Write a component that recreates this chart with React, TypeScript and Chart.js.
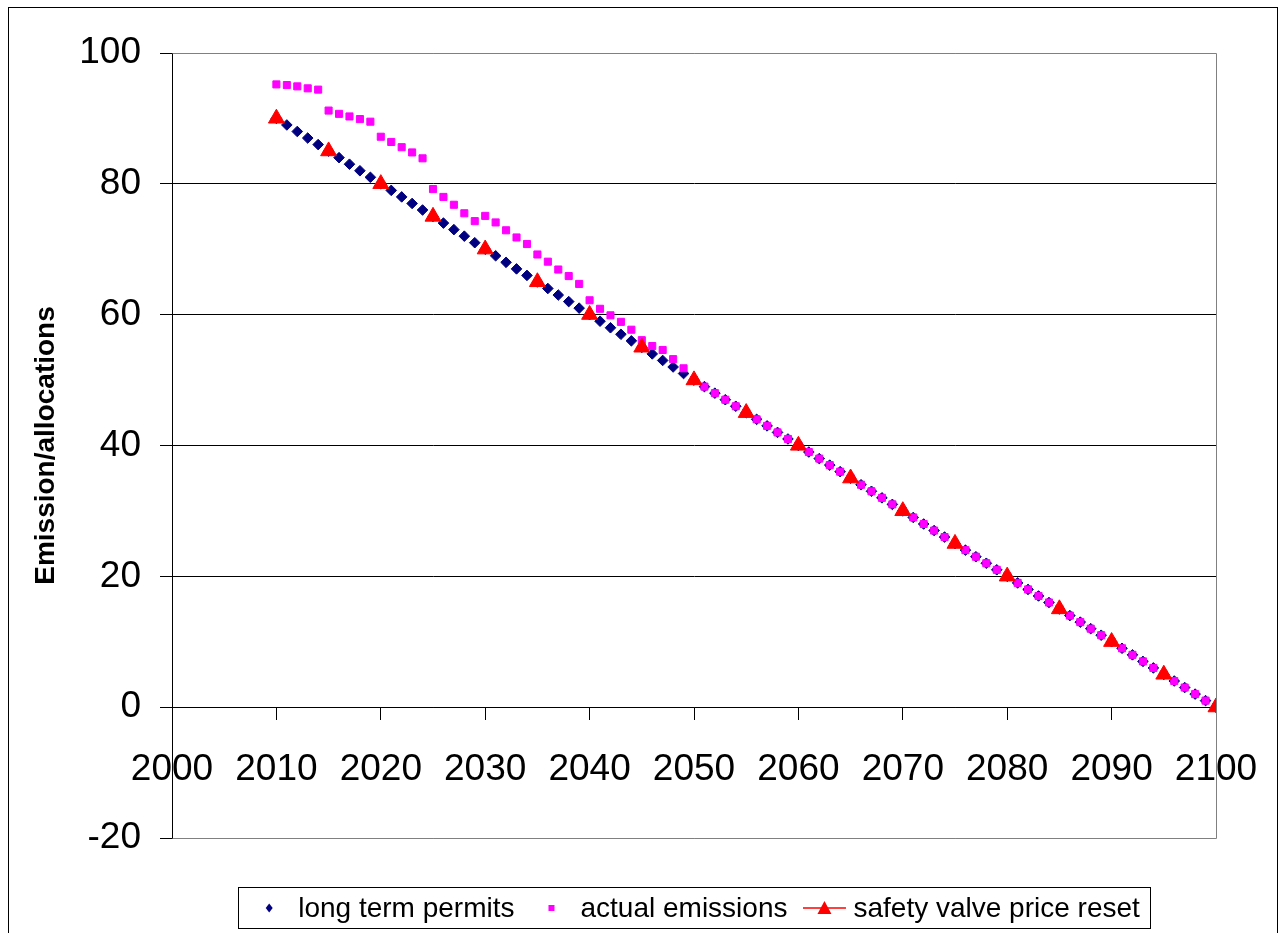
import React, { useEffect, useRef } from 'react';
import { Chart, registerables } from 'chart.js';

Chart.register(...registerables);

const FONT = '"Liberation Sans", Arial, sans-serif';

const years = [
  2010, 2011, 2012, 2013, 2014, 2015, 2016, 2017, 2018, 2019,
  2020, 2021, 2022, 2023, 2024, 2025, 2026, 2027, 2028, 2029,
  2030, 2031, 2032, 2033, 2034, 2035, 2036, 2037, 2038, 2039,
  2040, 2041, 2042, 2043, 2044, 2045, 2046, 2047, 2048, 2049,
  2050, 2051, 2052, 2053, 2054, 2055, 2056, 2057, 2058, 2059,
  2060, 2061, 2062, 2063, 2064, 2065, 2066, 2067, 2068, 2069,
  2070, 2071, 2072, 2073, 2074, 2075, 2076, 2077, 2078, 2079,
  2080, 2081, 2082, 2083, 2084, 2085, 2086, 2087, 2088, 2089,
  2090, 2091, 2092, 2093, 2094, 2095, 2096, 2097, 2098, 2099,
  2100,
];

const longTermPermits = [
  90, 89, 88, 87, 86, 85, 84, 83, 82, 81,
  80, 79, 78, 77, 76, 75, 74, 73, 72, 71,
  70, 69, 68, 67, 66, 65, 64, 63, 62, 61,
  60, 59, 58, 57, 56, 55, 54, 53, 52, 51,
  50, 49, 48, 47, 46, 45, 44, 43, 42, 41,
  40, 39, 38, 37, 36, 35, 34, 33, 32, 31,
  30, 29, 28, 27, 26, 25, 24, 23, 22, 21,
  20, 19, 18, 17, 16, 15, 14, 13, 12, 11,
  10, 9, 8, 7, 6, 5, 4, 3, 2, 1,
  0,
];

const actualEmissions = [
  95.2, 95.1, 94.9, 94.6, 94.4, 91.2, 90.7, 90.3, 89.9, 89.5,
  87.2, 86.4, 85.6, 84.8, 83.9, 79.2, 78.0, 76.8, 75.5, 74.3,
  75.1, 74.1, 72.9, 71.8, 70.8, 69.2, 68.1, 66.9, 65.9, 64.7,
  62.2, 60.9, 59.9, 58.9, 57.7, 56.1, 55.2, 54.6, 53.2, 51.8,
  50, 49, 48, 47, 46, 45, 44, 43, 42, 41,
  40, 39, 38, 37, 36, 35, 34, 33, 32, 31,
  30, 29, 28, 27, 26, 25, 24, 23, 22, 21,
  20, 19, 18, 17, 16, 15, 14, 13, 12, 11,
  10, 9, 8, 7, 6, 5, 4, 3, 2, 1,
  0,
];

const resetYears = [
  2010, 2015, 2020, 2025, 2030, 2035, 2040, 2045, 2050, 2055,
  2060, 2065, 2070, 2075, 2080, 2085, 2090, 2095, 2100,
];
const safetyValveReset = [
  90, 85, 80, 75, 70, 65, 60, 55, 50, 45,
  40, 35, 30, 25, 20, 15, 10, 5, 0,
];

const seriesLabels = ['long term permits', 'actual emissions', 'safety valve price reset'];
const yAxisTitle = 'Emission/allocations';

const NAVY = '#000080';
const MAGENTA = '#FF00FF';
const RED = '#FF0000';

const plotBorderPlugin = {
  id: 'plotBorder',
  beforeDatasetsDraw(chart: any) {
    const { ctx, chartArea: a } = chart;
    ctx.save();
    ctx.strokeStyle = '#808080';
    ctx.lineWidth = 1;
    ctx.beginPath();
    const l = Math.round(a.left) + 0.5;
    const r = Math.round(a.right) + 0.5;
    const t = Math.round(a.top) + 0.5;
    const b = Math.round(a.bottom) + 0.5;
    ctx.moveTo(l, t);
    ctx.lineTo(r, t);
    ctx.lineTo(r, b);
    ctx.lineTo(l, b);
    ctx.stroke();
    ctx.restore();
  },
};

const boxLegendPlugin = {
  id: 'boxLegend',
  afterDraw(chart: any) {
    const { ctx, chartArea: a } = chart;
    ctx.save();
    ctx.font = `28px ${FONT}`;
    const boxW = 34;
    const gap = 12;
    const spacing = 20;
    const labels: string[] = chart.data.datasets.map((d: any) => d.label);
    const widths = labels.map((t) => boxW + gap + ctx.measureText(t).width);
    const total = widths.reduce((s, w) => s + w, 0) + spacing * (labels.length - 1);
    let x = (a.left + a.right) / 2 - total / 2 + 2;
    const cy = 900;
    const baseY = 909;
    ctx.strokeStyle = '#000';
    ctx.lineWidth = 1;
    ctx.strokeRect(Math.round(x - 14) + 0.5, 879.5, Math.round(total + 24), 41);
    labels.forEach((label, i) => {
      const mx = x + boxW / 2;
      if (i === 0) {
        ctx.fillStyle = NAVY;
        ctx.beginPath();
        ctx.moveTo(mx, cy - 4.5);
        ctx.lineTo(mx + 3.5, cy);
        ctx.lineTo(mx, cy + 4.5);
        ctx.lineTo(mx - 3.5, cy);
        ctx.closePath();
        ctx.fill();
      } else if (i === 1) {
        ctx.fillStyle = MAGENTA;
        ctx.fillRect(mx - 3, cy - 3, 6, 6);
      } else {
        ctx.strokeStyle = RED;
        ctx.lineWidth = 1.5;
        ctx.beginPath();
        ctx.moveTo(mx - 21.5, cy);
        ctx.lineTo(mx + 21.5, cy);
        ctx.stroke();
        ctx.fillStyle = RED;
        ctx.beginPath();
        ctx.moveTo(mx, cy - 7);
        ctx.lineTo(mx + 7, cy + 6);
        ctx.lineTo(mx - 7, cy + 6);
        ctx.closePath();
        ctx.fill();
      }
      ctx.fillStyle = '#000';
      ctx.textAlign = 'left';
      ctx.textBaseline = 'alphabetic';
      ctx.fillText(label, x + boxW + gap, baseY);
      x += widths[i] + spacing;
    });
    ctx.restore();
  },
};

export default function App() {
  const canvasRef = useRef<HTMLCanvasElement | null>(null);

  useEffect(() => {
    if (!canvasRef.current) return;
    const chart = new Chart(canvasRef.current, {
      type: 'scatter',
      data: {
        datasets: [
          {
            label: seriesLabels[0],
            data: years.map((x, i) => ({ x, y: longTermPermits[i] })),
            pointStyle: 'rectRot',
            pointRadius: 5.3,
            pointBorderWidth: 1,
            pointBackgroundColor: NAVY,
            pointBorderColor: NAVY,
            backgroundColor: NAVY,
            borderColor: NAVY,
            showLine: false,
            order: 2,
          },
          {
            label: seriesLabels[1],
            data: years.map((x, i) => ({ x, y: actualEmissions[i] })),
            pointStyle: 'rect',
            pointRadius: 5,
            pointBorderWidth: 1,
            pointBackgroundColor: MAGENTA,
            pointBorderColor: MAGENTA,
            backgroundColor: MAGENTA,
            borderColor: MAGENTA,
            showLine: false,
            order: 1,
          },
          {
            label: seriesLabels[2],
            data: resetYears.map((x, i) => ({ x, y: safetyValveReset[i] })),
            pointStyle: 'triangle',
            pointRadius: 9.2,
            pointBorderWidth: 1,
            pointBackgroundColor: RED,
            pointBorderColor: RED,
            backgroundColor: RED,
            borderColor: RED,
            showLine: false,
            order: 0,
          },
        ],
      },
      options: {
        responsive: false,
        animation: false,
        devicePixelRatio: 1,
        layout: { padding: { left: 0, right: 61, top: 45, bottom: 95 } },
        plugins: {
          legend: { display: false },
          tooltip: { enabled: false },
        },
        scales: {
          x: {
            type: 'linear',
            position: { y: 0 },
            min: 2000,
            max: 2100,
            afterFit: (s: any) => {
              s.height = 0;
              s.paddingLeft = 30;
              s.paddingRight = 30;
            },
            ticks: {
              stepSize: 10,
              color: '#000',
              padding: 28,
              maxRotation: 0,
              font: { family: FONT, size: 37 },
              callback: (v: any) => String(v),
            },
            grid: {
              drawOnChartArea: false,
              drawTicks: true,
              tickLength: 12,
              color: '#000',
            },
            border: { display: true, color: '#000', width: 1 },
          },
          y: {
            type: 'linear',
            min: -20,
            max: 100,
            afterFit: (s: any) => {
              s.width = 163;
            },
            ticks: {
              stepSize: 20,
              color: '#000',
              padding: 19,
              font: { family: FONT, size: 37 },
            },
            grid: {
              color: (c: any) =>
                c.tick && (c.tick.value === 100 || c.tick.value === -20) ? '#808080' : '#000',
              tickColor: '#000',
              tickLength: 12,
              lineWidth: 1,
            },
            border: { display: true, color: '#000', width: 1 },
            title: {
              display: true,
              text: yAxisTitle,
              color: '#000',
              font: { family: FONT, size: 28, weight: 'bold' },
              padding: { top: 20, bottom: 0 },
            },
          },
        },
      },
      plugins: [plotBorderPlugin, boxLegendPlugin],
    } as any);
    return () => chart.destroy();
  }, []);

  return (
    <div
      style={{
        position: 'absolute',
        top: 7,
        left: 8,
        width: 1268,
        height: 925,
        borderTop: '1px solid #000',
        borderLeft: '1px solid #000',
        borderRight: '1px solid #000',
        background: '#fff',
        overflow: 'hidden',
      }}
    >
      <canvas ref={canvasRef} width={1268} height={925} style={{ display: 'block' }} />
    </div>
  );
}
